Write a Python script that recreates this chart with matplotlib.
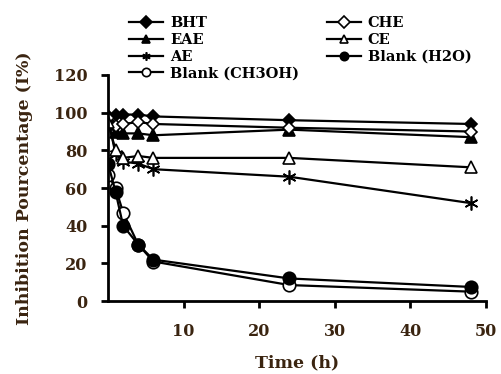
import numpy as np
import matplotlib.pyplot as plt

# sampling times (h)
time = [0, 1, 2, 4, 6, 24, 48]

# inhibition percentage (%) per sample
bht = [98, 99, 99, 99, 98, 96, 94]
che = [97, 93, 94, 95, 94, 92, 90]
eae = [94, 90, 89, 89, 88, 91, 87]
ce = [95, 80, 76, 77, 76, 76, 71]
ae = [97, 78, 74, 73, 70, 66, 52]
blank_h2o = [73, 58, 40, 30, 22, 12, 7.5]
blank_ch3oh = [67, 60, 47, 30, 21, 8.5, 5]

labels = ["BHT", "EAE", "AE", "Blank (CH3OH)", "CHE", "CE", "Blank (H2O)"]
series = [bht, eae, ae, blank_ch3oh, che, ce, blank_h2o]
markers = ["D", "^", (6, 2, 0), "o", "D", "^", "o"]
faces = ["black", "black", "black", "white", "white", "white", "black"]
sizes = [6.5, 9, 10, 9, 6.5, 9, 9]

serif = "DejaVu Serif"
tick_color = "#3a2410"

fig = plt.figure(figsize=(5.01, 3.74), dpi=100)
ax = fig.add_axes([0.2156, 0.195, 0.754, 0.6045])

for y, lab, m, fc, ms in zip(series, labels, markers, faces, sizes):
    ax.plot(time, y, color="black", lw=1.6, marker=m, markersize=ms,
            markerfacecolor=fc, markeredgecolor="black", markeredgewidth=1.2,
            label=lab)

ax.set_xlim(0, 50)
ax.set_ylim(0, 120)
ax.set_xticks([10, 20, 30, 40, 50])
ax.set_yticks([0, 20, 40, 60, 80, 100, 120])
for s in ["top", "right"]:
    ax.spines[s].set_visible(False)
for s in ["left", "bottom"]:
    ax.spines[s].set_linewidth(2)
ax.tick_params(direction="out", length=5, width=2)
ax.tick_params(axis="y", pad=10)
ax.tick_params(axis="x", pad=11)
for t in ax.get_xticklabels() + ax.get_yticklabels():
    t.set_fontfamily(serif)
    t.set_fontweight("bold")
    t.set_fontsize(11.5)
    t.set_color(tick_color)

ax.set_xlabel("Time (h)", fontfamily=serif, fontweight="bold", fontsize=12.5,
              color=tick_color, labelpad=10)
ax.set_ylabel("Inhibition Pourcentage (I%)", fontfamily=serif, fontweight="bold",
              fontsize=12.5, color=tick_color, labelpad=15)

leg = fig.legend(loc="upper left", bbox_to_anchor=(0.238, 0.985), ncol=2, frameon=False,
                 prop={"family": serif, "weight": "bold", "size": 10.5},
                 handlelength=2.3, handletextpad=0.5, columnspacing=1.9,
                 labelspacing=0.2, borderaxespad=0.3)
for h in leg.legend_handles:
    h.set_markersize(6)

fig.savefig("out.png", dpi=100)
